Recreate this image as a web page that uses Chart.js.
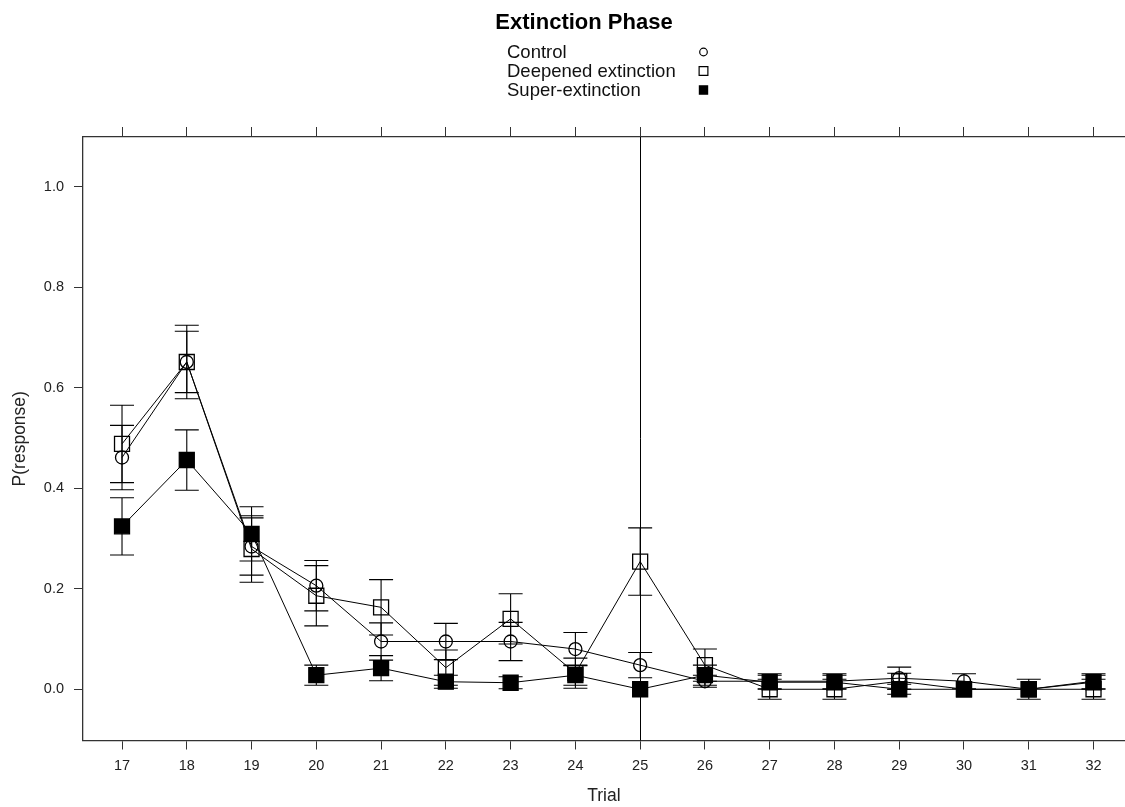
<!DOCTYPE html>
<html>
<head>
<meta charset="utf-8">
<title>Extinction Phase</title>
<script src="https://cdn.jsdelivr.net/npm/chart.js@4.4.1/dist/chart.umd.min.js"></script>
<style>
  html, body { margin: 0; padding: 0; background: #fff; overflow: hidden; }
  canvas { display: block; }
</style>
</head>
<body>
<canvas id="c" width="1125" height="807"></canvas>
<script>
// Trials of the extinction phase
const trials = [17, 18, 19, 20, 21, 22, 23, 24, 25, 26, 27, 28, 29, 30, 31, 32];

// Mean P(response) per trial and its error half-width
const control      = [0.461, 0.651, 0.284, 0.206, 0.095, 0.095, 0.095, 0.080, 0.048, 0.016, 0.016, 0.016, 0.022, 0.016, 0.000, 0.016];
const controlErr   = [0.064, 0.061, 0.057, 0.050, 0.037, 0.036, 0.038, 0.033, 0.025, 0.012, 0.015, 0.015, 0.022, 0.015, 0.000, 0.015];
const deepened     = [0.488, 0.651, 0.279, 0.186, 0.163, 0.043, 0.140, 0.032, 0.254, 0.048, 0.000, 0.000, 0.016, 0.000, 0.000, 0.000];
const deepenedErr  = [0.077, 0.073, 0.066, 0.060, 0.055, 0.035, 0.050, 0.030, 0.067, 0.032, 0.020, 0.020, 0.016, 0.000, 0.020, 0.020];
const superExt     = [0.324, 0.456, 0.309, 0.028, 0.042, 0.015, 0.013, 0.028, 0.000, 0.028, 0.014, 0.014, 0.000, 0.000, 0.000, 0.014];
const superExtErr  = [0.057, 0.060, 0.054, 0.020, 0.025, 0.013, 0.012, 0.020, 0.000, 0.020, 0.014, 0.014, 0.010, 0.000, 0.000, 0.014];

const seriesNames = ['Control', 'Deepened extinction', 'Super-extinction'];
const yTicks = [0.0, 0.2, 0.4, 0.6, 0.8, 1.0];
const markerLine = 25;   // trial marked by the vertical reference line

const FONT = "'Liberation Sans', Arial, Helvetica, sans-serif";
const INK = '#000';
const AXIS = '#333';
const TEXT = '#222';

const toPoints = (vals) => vals.map((v, i) => ({ x: trials[i], y: v }));

// Vertical error bars with caps, drawn from the error arrays
const errorBars = {
  id: 'errorBars',
  beforeDatasetsDraw(chart) {
    const { ctx, scales: { x, y } } = chart;
    ctx.save();
    ctx.strokeStyle = INK;
    ctx.lineWidth = 1.1;
    chart.data.datasets.forEach((ds) => {
      ds.errors.forEach((e, i) => {
        if (!e) return;
        const px = x.getPixelForValue(ds.data[i].x);
        const hi = y.getPixelForValue(ds.data[i].y + e);
        const lo = y.getPixelForValue(ds.data[i].y - e);
        ctx.beginPath();
        ctx.moveTo(px, hi); ctx.lineTo(px, lo);
        ctx.moveTo(px - 12, hi); ctx.lineTo(px + 12, hi);
        ctx.moveTo(px - 12, lo); ctx.lineTo(px + 12, lo);
        ctx.stroke();
      });
    });
    ctx.restore();
  }
};

// Reference line at the marked trial, spanning the whole panel
const refLine = {
  id: 'refLine',
  beforeDatasetsDraw(chart) {
    const { ctx, chartArea, scales: { x } } = chart;
    const px = Math.round(x.getPixelForValue(markerLine)) + 0.5;
    ctx.save();
    ctx.strokeStyle = INK;
    ctx.lineWidth = 1;
    ctx.beginPath();
    ctx.moveTo(px, chartArea.top);
    ctx.lineTo(px, chartArea.bottom);
    ctx.stroke();
    ctx.restore();
  }
};

// Title and key: series names with their symbols to the right
const keyPanel = {
  id: 'keyPanel',
  afterDraw(chart) {
    const { ctx } = chart;
    ctx.save();
    ctx.fillStyle = '#000';
    ctx.font = 'bold 22px ' + FONT;
    ctx.textAlign = 'center';
    ctx.textBaseline = 'middle';
    ctx.fillText('Extinction Phase', 584, 23);

    ctx.font = '18.5px ' + FONT;
    ctx.textAlign = 'left';
    const rowY = [52, 71, 90];
    const keyRadius = [3.8, 6.2, 5.8];
    chart.data.datasets.forEach((ds, i) => {
      ctx.fillStyle = '#111';
      ctx.fillText(ds.label, 507, rowY[i] + 1);
      ctx.strokeStyle = INK;
      ctx.fillStyle = ds.pointBackgroundColor;
      ctx.lineWidth = 1.2;
      Chart.helpers.drawPoint(ctx, { pointStyle: ds.pointStyle, radius: keyRadius[i], rotation: 0, borderWidth: 1.2 }, 703.5, rowY[i]);
    });
    ctx.restore();
  }
};

function lineSeries(label, vals, errs, style, fill, radius) {
  return {
    label,
    data: toPoints(vals),
    errors: errs,
    showLine: true,
    borderColor: INK,
    borderWidth: 1,
    tension: 0,
    pointStyle: style,
    pointRadius: radius,
    pointHoverRadius: radius,
    pointBorderColor: INK,
    pointBorderWidth: 1.3,
    pointBackgroundColor: fill
  };
}

const xMin = 16.393, xMax = 32.486;

// Keep the panel flush with the right edge: no extra room for edge labels
const noEdgePadding = (s) => { s.paddingLeft = 0; s.paddingRight = 0; };

new Chart(document.getElementById('c'), {
  type: 'scatter',
  data: {
    datasets: [
      lineSeries(seriesNames[0], control, controlErr, 'circle', 'rgba(0,0,0,0)', 6.5),
      lineSeries(seriesNames[1], deepened, deepenedErr, 'rect', 'rgba(0,0,0,0)', 10.6),
      lineSeries(seriesNames[2], superExt, superExtErr, 'rect', '#000', 10.6)
    ]
  },
  options: {
    responsive: false,
    animation: false,
    devicePixelRatio: 1,
    layout: { autoPadding: false, padding: { top: 127, left: 0, right: 0, bottom: 0 } },
    plugins: {
      legend: { display: false },
      title: { display: false },
      tooltip: { enabled: false }
    },
    scales: {
      x: {
        type: 'linear',
        position: 'bottom',
        min: xMin, max: xMax,
        afterBuildTicks: (s) => { s.ticks = trials.map(v => ({ value: v })); },
        afterFit: (s) => { s.height = 66.5; noEdgePadding(s); },
        grid: { drawOnChartArea: false, drawTicks: true, tickLength: 9, color: AXIS, lineWidth: 1 },
        border: { display: true, color: AXIS, width: 1.3 },
        ticks: { color: TEXT, font: { family: FONT, size: 14.5 }, padding: 8, maxRotation: 0, autoSkip: false,
                 callback: (v) => String(v) },
        title: { display: true, text: 'Trial', color: TEXT, font: { family: FONT, size: 17.5 }, padding: { top: 4, bottom: 0 } }
      },
      xTop: {
        type: 'linear',
        position: 'top',
        min: xMin, max: xMax,
        afterBuildTicks: (s) => { s.ticks = trials.map(v => ({ value: v })); },
        afterFit: (s) => { s.height = 10; noEdgePadding(s); },
        grid: { drawOnChartArea: false, drawTicks: true, tickLength: 10, color: AXIS, lineWidth: 1 },
        border: { display: true, color: AXIS, width: 1.3 },
        ticks: { display: false }
      },
      y: {
        type: 'linear',
        position: 'left',
        min: -0.1019, max: 1.0985,
        afterBuildTicks: (s) => { s.ticks = yTicks.map(v => ({ value: v })); },
        afterFit: (s) => { s.width = 82.7; },
        grid: { drawOnChartArea: false, drawTicks: true, tickLength: 8.7, color: AXIS, lineWidth: 1 },
        border: { display: true, color: AXIS, width: 1.3 },
        ticks: { color: TEXT, font: { family: FONT, size: 14.5 }, padding: 10, callback: (v) => v.toFixed(1) },
        title: { display: true, text: 'P(response)', color: TEXT, font: { family: FONT, size: 17.5 }, padding: { top: 10, bottom: 0 } }
      }
    }
  },
  plugins: [refLine, errorBars, keyPanel]
});
</script>
</body>
</html>
